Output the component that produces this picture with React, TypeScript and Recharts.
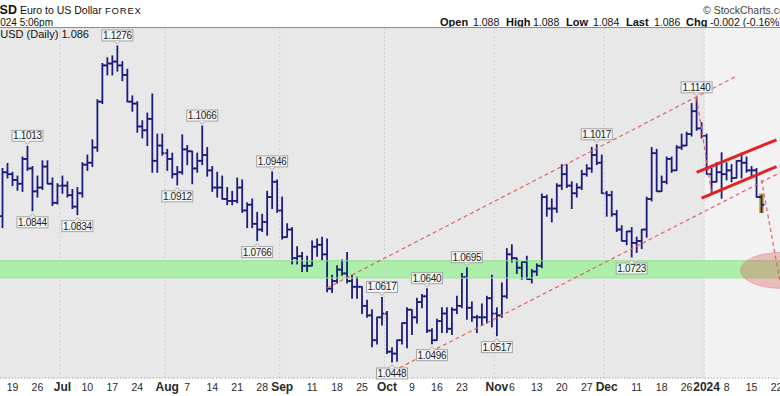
import {
  ComposedChart,
  Bar,
  XAxis,
  YAxis,
  CartesianGrid,
  ReferenceArea,
  ReferenceLine,
  ReferenceDot,
} from 'recharts'

document.body.style.margin = '0'

const FONT = '"Liberation Sans", Arial, sans-serif'
const BAR_COLOR = '#1c1c7c'
const CHANNEL_RED = '#e06464'

// trading days (FX closed on 25 Dec and 1 Jan)
const holidays = ['2023-12-25', '2024-01-01']
function tradingDays(start: string, end: string) {
  const out: string[] = []
  const d = new Date(start + 'T12:00:00Z')
  const stop = new Date(end + 'T12:00:00Z')
  while (d <= stop) {
    const wd = d.getUTCDay()
    const s = d.toISOString().slice(0, 10)
    if (wd !== 0 && wd !== 6 && !holidays.includes(s)) out.push(s)
    d.setUTCDate(d.getUTCDate() + 1)
  }
  return out
}
const days = tradingDays('2023-06-15', '2024-01-23')

// daily OHLC, one line per week, starting Thu 15 Jun 2023
const opens = [
  1.0830, 1.0945,
  1.0940, 1.0925, 1.0915, 1.0980, 1.0955,
  1.0895, 1.0905, 1.0960, 1.0915, 1.0865,
  1.0910, 1.0910, 1.0885, 1.0855, 1.0890,
  1.0965, 1.0970, 1.1010, 1.1130, 1.1225,
  1.1230, 1.1235, 1.1225, 1.1200, 1.1130,
  1.1125, 1.1065, 1.1055, 1.1085, 1.0975,
  1.1015, 1.0995, 1.0980, 1.0940, 1.0945,
  1.1005, 1.1000, 1.0955, 1.0975, 1.0990,
  1.0950, 1.0905, 1.0905, 1.0875, 1.0870,
  1.0870, 1.0905, 1.0845, 1.0860, 1.0810,
  1.0795, 1.0815, 1.0880, 1.0920, 1.0845,
  1.0775, 1.0795, 1.0720, 1.0725, 1.0700,
  1.0700, 1.0750, 1.0755, 1.0730, 1.0640,
  1.0660, 1.0690, 1.0680, 1.0660, 1.0645,
  1.0645, 1.0595, 1.0570, 1.0505, 1.0565,
  1.0575, 1.0475, 1.0470, 1.0505, 1.0550,
  1.0585, 1.0565, 1.0605, 1.0620, 1.0530,
  1.0505, 1.0555, 1.0575, 1.0535, 1.0585,
  1.0595, 1.0670, 1.0590, 1.0565, 1.0565,
  1.0565, 1.0615, 1.0575, 1.0570, 1.0620,
  1.0730, 1.0720, 1.0695, 1.0710, 1.0665,
  1.0685, 1.0700, 1.0880, 1.0850, 1.0850,
  1.0910, 1.0940, 1.0910, 1.0890, 1.0905,
  1.0940, 1.0955, 1.0990, 1.0970, 1.0890,
  1.0885, 1.0835, 1.0795, 1.0765, 1.0790,
  1.0760, 1.0765, 1.0795, 1.0875, 1.0995,
  1.0895, 1.0920, 1.0980, 1.0950, 1.1010,
  1.1015, 1.1045, 1.1105, 1.1060,
  1.1040, 1.0940, 1.0920, 1.0945,
  1.0940, 1.0950, 1.0930, 1.0975, 1.0970,
  1.0950, 1.0950, 1.0880,
]
const highs = [
  1.0955, 1.0968,
  1.0945, 1.0935, 1.0985, 1.1013, 1.0960,
  1.0935, 1.0975, 1.0975, 1.0930, 1.0915,
  1.0935, 1.0920, 1.0900, 1.0905, 1.0970,
  1.0990, 1.1030, 1.1135, 1.1230, 1.1245,
  1.1250, 1.1276, 1.1235, 1.1215, 1.1145,
  1.1130, 1.1080, 1.1100, 1.1150, 1.1045,
  1.1045, 1.1005, 1.0995, 1.0960, 1.1043,
  1.1015, 1.1000, 1.0995, 1.1066, 1.1010,
  1.0960, 1.0945, 1.0935, 1.0905, 1.0895,
  1.0930, 1.0925, 1.0865, 1.0875, 1.0840,
  1.0835, 1.0895, 1.0946, 1.0925, 1.0880,
  1.0810, 1.0800, 1.0750, 1.0735, 1.0725,
  1.0765, 1.0770, 1.0775, 1.0770, 1.0675,
  1.0700, 1.0715, 1.0735, 1.0675, 1.0670,
  1.0645, 1.0610, 1.0585, 1.0565, 1.0617,
  1.0580, 1.0485, 1.0505, 1.0550, 1.0590,
  1.0585, 1.0615, 1.0625, 1.0640, 1.0535,
  1.0560, 1.0590, 1.0590, 1.0590, 1.0620,
  1.0680, 1.0695, 1.0605, 1.0570, 1.0600,
  1.0620, 1.0675, 1.0590, 1.0655, 1.0745,
  1.0755, 1.0720, 1.0710, 1.0725, 1.0690,
  1.0705, 1.0888, 1.0885, 1.0875, 1.0915,
  1.0965, 1.0965, 1.0920, 1.0915, 1.0950,
  1.0965, 1.1010, 1.1017, 1.0990, 1.0895,
  1.0895, 1.0845, 1.0805, 1.0790, 1.0800,
  1.0775, 1.0795, 1.0880, 1.1010, 1.1005,
  1.0935, 1.0985, 1.0985, 1.1015, 1.1045,
  1.1050, 1.1125, 1.1140, 1.1075,
  1.1045, 1.0955, 1.0970, 1.0996,
  1.0970, 1.0965, 1.0975, 1.0995, 1.0985,
  1.0960, 1.0955, 1.0885,
]
const lows = [
  1.0800, 1.0930,
  1.0910, 1.0898, 1.0895, 1.0950, 1.0844,
  1.0880, 1.0900, 1.0915, 1.0858, 1.0862,
  1.0890, 1.0880, 1.0850, 1.0834, 1.0880,
  1.0950, 1.0960, 1.1000, 1.1125, 1.1200,
  1.1200, 1.1210, 1.1185, 1.1130, 1.1105,
  1.1050, 1.1035, 1.1015, 1.0945, 1.0945,
  1.0990, 1.0950, 1.0930, 1.0912, 1.0940,
  1.0965, 1.0915, 1.0945, 1.0965, 1.0935,
  1.0895, 1.0880, 1.0875, 1.0860, 1.0860,
  1.0865, 1.0840, 1.0800, 1.0800, 1.0766,
  1.0790, 1.0780, 1.0850, 1.0840, 1.0770,
  1.0775, 1.0705, 1.0705, 1.0685, 1.0685,
  1.0700, 1.0725, 1.0715, 1.0632, 1.0630,
  1.0655, 1.0675, 1.0655, 1.0615, 1.0615,
  1.0575, 1.0565, 1.0488, 1.0495, 1.0545,
  1.0470, 1.0448, 1.0450, 1.0495, 1.0485,
  1.0520, 1.0550, 1.0590, 1.0525, 1.0496,
  1.0505, 1.0525, 1.0525, 1.0520, 1.0575,
  1.0590, 1.0560, 1.0555, 1.0525, 1.0545,
  1.0550, 1.0540, 1.0517, 1.0565, 1.0615,
  1.0710, 1.0680, 1.0665, 1.0665, 1.0655,
  1.0675, 1.0695, 1.0830, 1.0815, 1.0840,
  1.0900, 1.0905, 1.0850, 1.0880, 1.0900,
  1.0935, 1.0945, 1.0965, 1.0890, 1.0830,
  1.0830, 1.0790, 1.0765, 1.0755, 1.0723,
  1.0735, 1.0745, 1.0775, 1.0870, 1.0895,
  1.0895, 1.0915, 1.0945, 1.0950, 1.1005,
  1.1015, 1.1040, 1.1055, 1.1035,
  1.0940, 1.0892, 1.0920, 1.0877,
  1.0925, 1.0920, 1.0930, 1.0930, 1.0945,
  1.0935, 1.0880, 1.0840,
]
const closes = [
  1.0945, 1.0940,
  1.0925, 1.0915, 1.0980, 1.0955, 1.0895,
  1.0905, 1.0960, 1.0915, 1.0865, 1.0910,
  1.0910, 1.0885, 1.0855, 1.0890, 1.0965,
  1.0970, 1.1010, 1.1130, 1.1225, 1.1230,
  1.1235, 1.1225, 1.1200, 1.1130, 1.1125,
  1.1065, 1.1055, 1.1085, 1.0975, 1.1015,
  1.0995, 1.0980, 1.0940, 1.0945, 1.1005,
  1.1000, 1.0955, 1.0975, 1.0990, 1.0950,
  1.0905, 1.0905, 1.0875, 1.0870, 1.0870,
  1.0905, 1.0845, 1.0860, 1.0810, 1.0795,
  1.0815, 1.0880, 1.0920, 1.0845, 1.0775,
  1.0795, 1.0720, 1.0725, 1.0700, 1.0700,
  1.0750, 1.0755, 1.0730, 1.0640, 1.0660,
  1.0690, 1.0680, 1.0660, 1.0645, 1.0645,
  1.0595, 1.0570, 1.0505, 1.0565, 1.0575,
  1.0475, 1.0470, 1.0505, 1.0550, 1.0585,
  1.0565, 1.0605, 1.0620, 1.0530, 1.0505,
  1.0555, 1.0575, 1.0535, 1.0585, 1.0595,
  1.0670, 1.0590, 1.0565, 1.0565, 1.0565,
  1.0615, 1.0575, 1.0570, 1.0620, 1.0730,
  1.0720, 1.0695, 1.0710, 1.0665, 1.0685,
  1.0700, 1.0880, 1.0850, 1.0850, 1.0910,
  1.0940, 1.0910, 1.0890, 1.0905, 1.0940,
  1.0955, 1.0990, 1.0970, 1.0890, 1.0885,
  1.0835, 1.0795, 1.0765, 1.0790, 1.0760,
  1.0765, 1.0795, 1.0875, 1.0995, 1.0895,
  1.0920, 1.0980, 1.0950, 1.1010, 1.1015,
  1.1045, 1.1105, 1.1060, 1.1040,
  1.0940, 1.0920, 1.0945, 1.0940,
  1.0950, 1.0930, 1.0975, 1.0970, 1.0950,
  1.0950, 1.0880, 1.0860,
]

// x-axis labels
const tickDates = [
  '2023-06-19', '2023-06-26', '2023-07-03', '2023-07-10', '2023-07-17', '2023-07-24',
  '2023-08-01', '2023-08-07', '2023-08-14', '2023-08-21', '2023-08-28', '2023-09-01',
  '2023-09-11', '2023-09-18', '2023-09-25', '2023-10-02', '2023-10-09', '2023-10-16',
  '2023-10-23', '2023-11-01', '2023-11-06', '2023-11-13', '2023-11-20', '2023-11-27',
  '2023-12-01', '2023-12-11', '2023-12-18', '2023-12-26', '2024-01-02', '2024-01-08',
  '2024-01-15', '2024-01-22',
]
const tickLabels = [
  '19', '26', 'Jul', '10', '17', '24', 'Aug', '7', '14', '21', '28', 'Sep',
  '11', '18', '25', 'Oct', '9', '16', '23', 'Nov', '6', '13', '20', '27',
  'Dec', '11', '18', '26', '2024', '8', '15', '22',
]
const monthStarts = ['2023-07-03', '2023-08-01', '2023-09-01', '2023-10-02', '2023-11-01', '2023-12-01', '2024-01-02']
const priceGrid = [
  1.045, 1.05, 1.055, 1.06, 1.065, 1.07, 1.075, 1.08, 1.085, 1.09,
  1.095, 1.1, 1.105, 1.11, 1.115, 1.12, 1.125, 1.13,
]

// swing high / low callouts
const noteDates = [
  '2023-06-22', '2023-06-23', '2023-07-06', '2023-07-18', '2023-08-03', '2023-08-10',
  '2023-08-25', '2023-08-30', '2023-09-29', '2023-10-03', '2023-10-12', '2023-10-13',
  '2023-10-24', '2023-11-01', '2023-11-29', '2023-12-08', '2023-12-28',
]
const notePrices = [
  1.1013, 1.0844, 1.0834, 1.1276, 1.0912, 1.1066, 1.0766, 1.0946, 1.0617, 1.0448,
  1.0640, 1.0496, 1.0695, 1.0517, 1.1017, 1.0723, 1.1140,
]
const noteSides = [
  'up', 'down', 'down', 'up', 'down', 'up', 'down', 'up', 'up', 'down',
  'up', 'down', 'up', 'down', 'up', 'down', 'up',
]

// hand-drawn trend lines: [date1, price1, date2, price2]
const channelUpper: [string, number, string, number] = ['2023-09-14', 1.0642, '2024-01-10', 1.1197]
const channelLower: [string, number, string, number] = ['2023-10-02', 1.0416, '2024-01-23', 1.0946]
const flagPole: [string, number, string, number] = ['2023-12-28', 1.1140, '2024-01-03', 1.0891]
const flagUpper: [string, number, string, number] = ['2023-12-28', 1.0945, '2024-01-22', 1.1030]
const flagLower: [string, number, string, number] = ['2023-12-29', 1.0877, '2024-01-22', 1.0960]
const projection: [string, number, string, number] = ['2024-01-17', 1.0925, '2024-01-23', 1.0637]

const data = days.map((date, i) =>
  i < opens.length
    ? { date, o: opens[i], h: highs[i], l: lows[i], c: closes[i], range: [lows[i], highs[i]] }
    : { date },
)

function OhlcShape(props: any) {
  const { x, y, width, height, payload } = props
  if (!payload || payload.h == null) return <g />
  const top = Math.min(y, y + height)
  const bottom = Math.max(y, y + height)
  const span = payload.h - payload.l
  const toY = (p: number) => (span === 0 ? top : top + ((payload.h - p) / span) * (bottom - top))
  const cx = x + width / 2
  return (
    <g stroke={BAR_COLOR} strokeWidth={1.8}>
      <line x1={cx} x2={cx} y1={top - 0.5} y2={bottom + 0.5} />
      <line x1={cx - 3} x2={cx} y1={toY(payload.o)} y2={toY(payload.o)} />
      <line x1={cx} x2={cx + 3} y1={toY(payload.c)} y2={toY(payload.c)} />
    </g>
  )
}

const noteShape = (side: string, text: string) => (props: any) => {
  const { cx, cy } = props
  if (cx == null || cy == null) return <g />
  const w = 31
  const h = 11
  const up = side === 'up'
  const top = up ? cy - 5 - h : cy + 6
  const baseY = up ? cy - 5 : cy + 6
  const tipY = up ? cy - 2 : cy + 3
  return (
    <g>
      <rect x={cx - w / 2} y={top} width={w} height={h} fill="rgba(250,250,250,0.78)" stroke="#a4a4a4" strokeWidth={1} />
      <path d={`M${cx - 3},${baseY} L${cx},${tipY} L${cx + 3},${baseY}`} fill="#f4f4f4" stroke="#a4a4a4" strokeWidth={1} />
      <text x={cx} y={top + 9} textAnchor="middle" fontSize={10} letterSpacing={-0.3} fontFamily={FONT} fill="#222">
        {text}
      </text>
    </g>
  )
}

const ellipseShape = (props: any) => {
  const { cx, cy } = props
  if (cx == null || cy == null) return <g />
  return <ellipse cx={cx} cy={cy} rx={41} ry={18} fill="rgba(222,92,92,0.34)" stroke="rgba(222,120,120,0.5)" />
}

function DateTick(props: any) {
  const { x, y, payload } = props
  const label = tickLabels[tickDates.indexOf(payload.value)] ?? ''
  const bold = isNaN(Number(label)) || label === '2024'
  return (
    <text
      x={x}
      y={y + 13}
      textAnchor="middle"
      fontSize={bold ? 12 : 10.5}
      fontWeight={bold ? 'bold' : 'normal'}
      fontFamily={FONT}
      fill="#2a2a2a"
    >
      {label}
    </text>
  )
}

function seg(s: [string, number, string, number]) {
  return [
    { x: s[0], y: s[1] },
    { x: s[2], y: s[3] },
  ]
}

export default function App() {
  return (
    <div style={{ position: 'relative', width: 780, height: 396, overflow: 'hidden', background: '#fff' }}>
      <svg width={780} height={28} style={{ position: 'absolute', left: 0, top: 0 }}>
        <text x={17} y={14} textAnchor="end" fontSize={12.5} fontWeight="bold" fontFamily={FONT} fill="#111">
          $EURUSD
        </text>
        <text x={20} y={14} fontSize={10.5} fontFamily={FONT} fill="#111">
          Euro to US Dollar
        </text>
        <text x={105} y={14} fontSize={9.5} letterSpacing={0.8} fontFamily={FONT} fill="#111">
          FOREX
        </text>
        <text x={53} y={26} textAnchor="end" fontSize={10} fontFamily={FONT} fill="#111">
          17-Jan-2024 5:06pm
        </text>
        <text x={703} y={14} fontSize={10.5} fontFamily={FONT} fill="#444">
          © StockCharts.com
        </text>
        <text y={26} fontFamily={FONT} fill="#111">
          <tspan x={440} fontWeight="bold" fontSize={11}>Open</tspan>
          <tspan x={473} fontSize={10.5}>1.088</tspan>
          <tspan x={506} fontWeight="bold" fontSize={11}>High</tspan>
          <tspan x={533} fontSize={10.5}>1.088</tspan>
          <tspan x={566} fontWeight="bold" fontSize={11}>Low</tspan>
          <tspan x={593} fontSize={10.5}>1.084</tspan>
          <tspan x={626} fontWeight="bold" fontSize={11}>Last</tspan>
          <tspan x={654} fontSize={10.5}>1.086</tspan>
          <tspan x={686} fontWeight="bold" fontSize={11}>Chg</tspan>
          <tspan x={710} fontSize={10.5}>-0.002 (-0.16%)</tspan>
        </text>
        <line x1={0} x2={780} y1={27.5} y2={27.5} stroke="#8e8e8e" />
      </svg>
      <div style={{ position: 'absolute', left: 0, top: 28 }}>
        <ComposedChart width={784} height={368} data={data} margin={{ top: 0, right: 0, left: 0, bottom: 0 }}>
          <CartesianGrid vertical={false} fill="#e8e8e8" stroke="#d6d6d6" strokeDasharray="2 2" />
          <XAxis
            dataKey="date"
            ticks={tickDates}
            interval={0}
            tick={<DateTick />}
            tickLine={false}
            tickSize={0}
            tickMargin={0}
            height={18}
            axisLine={{ stroke: '#a8a8a8', strokeDasharray: '1 2' }}
          />
          <YAxis
            type="number"
            domain={[1.0406, 1.1323]}
            ticks={priceGrid}
            width={0}
            tick={false}
            axisLine={false}
            tickLine={false}
          />
          <ReferenceArea x1="2024-01-02" x2="2024-01-23" fill="#f2f2f2" fillOpacity={1} />
          {monthStarts.map((d) => (
            <ReferenceLine key={d} x={d} position="start" stroke="#d2d2d2" strokeDasharray="2 2" />
          ))}
          <ReferenceArea y1={1.0668} y2={1.0713} fill="#abefab" fillOpacity={1} />
          <ReferenceLine y={1.0713} stroke="#8fdc8f" />
          <ReferenceLine y={1.0668} stroke="#9fe49f" />
          <ReferenceArea x1="2024-01-17" x2="2024-01-17" y1={1.0838} y2={1.0890} fill="#d4aa1c" fillOpacity={0.9} />
          <ReferenceDot x="2024-01-23" y={1.0688} shape={ellipseShape} />
          <Bar dataKey="range" shape={OhlcShape} isAnimationActive={false} />
          <ReferenceLine segment={seg(channelUpper)} stroke={CHANNEL_RED} strokeWidth={1.2} strokeDasharray="4 3" />
          <ReferenceLine segment={seg(channelLower)} stroke={CHANNEL_RED} strokeWidth={1.2} strokeDasharray="4 3" />
          <ReferenceLine segment={seg(flagPole)} stroke={CHANNEL_RED} strokeWidth={1.2} strokeDasharray="4 3" />
          <ReferenceLine segment={seg(projection)} stroke={CHANNEL_RED} strokeWidth={1.2} strokeDasharray="4 3" />
          <ReferenceLine segment={seg(flagUpper)} stroke="#e42222" strokeWidth={3} />
          <ReferenceLine segment={seg(flagLower)} stroke="#e42222" strokeWidth={3} />
          {noteDates.map((d, i) => (
            <ReferenceDot
              key={d}
              x={d}
              y={notePrices[i]}
              shape={noteShape(noteSides[i], notePrices[i].toFixed(4))}
            />
          ))}
        </ComposedChart>
      </div>
      <svg width={780} height={20} style={{ position: 'absolute', left: 0, top: 28, pointerEvents: 'none' }}>
        <text x={-29} y={10} fontSize={11} fontFamily={FONT} fill="#111">
          $EURUSD (Daily) 1.086
        </text>
      </svg>
    </div>
  )
}
